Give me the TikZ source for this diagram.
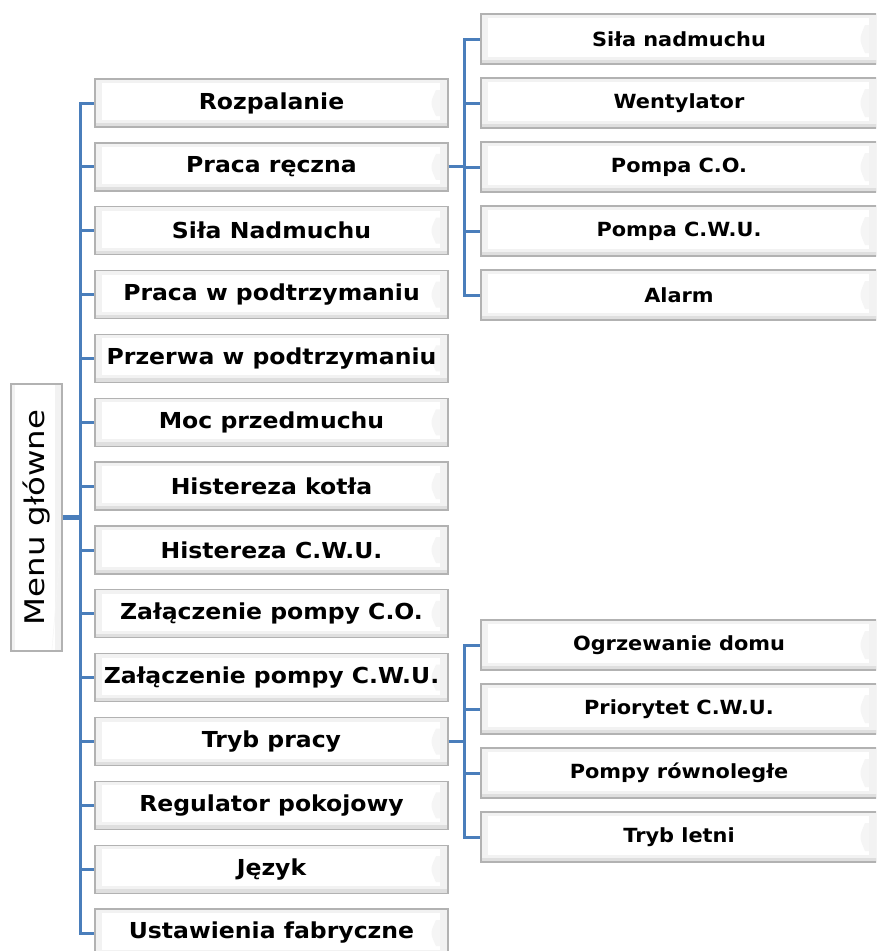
\documentclass[tikz,border=0pt]{standalone}
\usepackage{fontspec}
\setmainfont{DejaVu Sans}[FakeStretch=1.07]
\newfontfamily\menufont{DejaVu Sans}[FakeStretch=1.2]
\definecolor{linkblue}{RGB}{74,126,187}
\tikzset{
  bevel/.style={draw=gray!60, line width=1.3pt, fill=gray!10, inner sep=0pt,
    path picture={
      \fill[white] ([shift={(7pt,-4pt)}]path picture bounding box.north west)
        rectangle ([shift={(-8pt,7pt)}]path picture bounding box.south east);
      \fill[gray!25] (path picture bounding box.south west)
        rectangle ([shift={(0pt,4pt)}]path picture bounding box.south east);
      \fill[gray!8] ([shift={(-12pt,-11pt)}]path picture bounding box.north east)
        .. controls ([shift={(-18pt,0pt)}]path picture bounding box.east) ..
        ([shift={(-12pt,11pt)}]path picture bounding box.south east)
        -- ([shift={(-8pt,11pt)}]path picture bounding box.south east)
        -- ([shift={(-8pt,-11pt)}]path picture bounding box.north east) -- cycle;
    }},
  mainbox/.style={bevel, minimum width=353pt, minimum height=48pt,
    font=\fontsize{22}{26}\selectfont\bfseries},
  subbox/.style={bevel, minimum width=396pt, minimum height=50pt,
    font=\fontsize{19.5}{23}\selectfont\bfseries},
  conn/.style={draw=linkblue, line width=3pt},
}
\begin{document}
\begin{tikzpicture}[x=1pt, y=1pt]
  \path[use as bounding box, clip] (0,0) rectangle (876,-951);

  % Menu glowne
  \node[bevel, rotate=90, minimum width=267pt, minimum height=51pt,
        font=\menufont\fontsize{27}{30}\selectfont] (menu) at (36.5,-517.5) {Menu główne};

  % Pozycje menu glownego
  \node[mainbox] (rozp)   at (271.5,-103)   {Rozpalanie};
  \node[mainbox] (reczna) at (271.5,-166.9) {Praca ręczna};
  \node[mainbox] (sila)   at (271.5,-230.7) {Siła Nadmuchu};
  \node[mainbox] (praca)  at (271.5,-294.6) {Praca w podtrzymaniu};
  \node[mainbox] (przerwa) at (271.5,-358.4) {Przerwa w podtrzymaniu};
  \node[mainbox] (moc)    at (271.5,-422.3) {Moc przedmuchu};
  \node[mainbox] (histk)  at (271.5,-486.1) {Histereza kotła};
  \node[mainbox] (histc)  at (271.5,-550)   {Histereza C.W.U.};
  \node[mainbox] (zalco)  at (271.5,-613.8) {Załączenie pompy C.O.};
  \node[mainbox] (zalcwu) at (271.5,-677.7) {Załączenie pompy C.W.U.};
  \node[mainbox] (tryb)   at (271.5,-741.5) {Tryb pracy};
  \node[mainbox] (regul)  at (271.5,-805.4) {Regulator pokojowy};
  \node[mainbox] (jezyk)  at (271.5,-869.2) {Język};
  \node[mainbox] (ustaw)  at (271.5,-933)   {Ustawienia fabryczne};

  % Praca reczna
  \node[subbox] (nadm)  at (679,-39)  {Siła nadmuchu};
  \node[subbox] (went)  at (679,-103) {Wentylator};
  \node[subbox] (pco)   at (679,-167) {Pompa C.O.};
  \node[subbox] (pcwu)  at (679,-231) {Pompa C.W.U.};
  \node[subbox] (alarm) at (679,-295) {Alarm};

  % Tryb pracy
  \node[subbox] (ogrz)  at (679,-645) {Ogrzewanie domu};
  \node[subbox] (prio)  at (679,-709) {Priorytet C.W.U.};
  \node[subbox] (rown)  at (679,-773) {Pompy równoległe};
  \node[subbox] (letni) at (679,-837) {Tryb letni};

  % Polaczenia
  \coordinate (trunk) at (80,-517.5);
  \draw[conn, line width=4.5pt] (menu.south) -- (trunk);
  \draw[conn, line cap=rect] (trunk |- rozp.west) -- (trunk |- ustaw.west);
  \foreach \n in {rozp,reczna,sila,praca,przerwa,moc,histk,histc,zalco,zalcwu,tryb,regul,jezyk,ustaw}
    \draw[conn] (trunk |- \n.west) -- (\n.west);

  \coordinate (fork1) at (464,-167);
  \draw[conn] (reczna.east) -- (fork1 |- reczna.east);
  \draw[conn, line cap=rect] (fork1 |- nadm.west) -- (fork1 |- alarm.west);
  \foreach \n in {nadm,went,pco,pcwu,alarm}
    \draw[conn] (fork1 |- \n.west) -- (\n.west);

  \coordinate (fork2) at (464,-741.5);
  \draw[conn] (tryb.east) -- (fork2 |- tryb.east);
  \draw[conn, line cap=rect] (fork2 |- ogrz.west) -- (fork2 |- letni.west);
  \foreach \n in {ogrz,prio,rown,letni}
    \draw[conn] (fork2 |- \n.west) -- (\n.west);
\end{tikzpicture}
\end{document}
